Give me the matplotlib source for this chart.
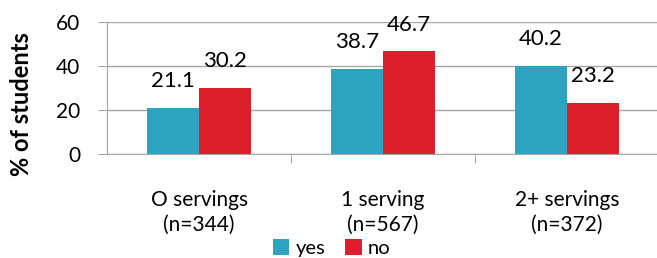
import numpy as np
import matplotlib.pyplot as plt

categories = ['O servings\n(n=344)', '1 serving\n(n=567)', '2+ servings\n(n=372)']
yes_vals = [21.1, 38.7, 40.2]
no_vals = [30.2, 46.7, 23.2]
yticks = [0, 20, 40, 60]

TEAL = '#2EA3C0'
RED = '#DC1F2A'
GRID = '#A6A6A6'

plt.rcParams['font.family'] = ['Lato', 'DejaVu Sans']

fig = plt.figure(figsize=(6.57, 2.58), dpi=100)
ax = fig.add_axes([0.163, 0.403, 0.84, 0.512])

x = np.arange(len(categories))
w = 0.283
b1 = ax.bar(x - w/2, yes_vals, w, color=TEAL, label='yes', zorder=3)
b2 = ax.bar(x + w/2, no_vals, w, color=RED, label='no', zorder=3)

for bars, vals in ((b1, yes_vals), (b2, no_vals)):
    for r, v in zip(bars, vals):
        ax.annotate('%.1f' % v, (r.get_x() + r.get_width()/2, v),
                    xytext=(0, 12), textcoords='offset points',
                    ha='center', va='bottom', fontsize=16, color='black')

ax.set_xlim(-0.5, 2.5)
ax.set_ylim(0, 60)
ax.set_yticks(yticks)
ax.tick_params(axis='y', length=6.5, color=GRID, labelsize=15, pad=13)
ax.yaxis.grid(True, color=GRID, linewidth=1, zorder=0)
ax.set_xticks([0.5, 1.5], minor=False)
ax.set_xticklabels([])
ax.tick_params(axis='x', length=6.5, color=GRID)
ax.set_xticks(x, minor=True)
ax.set_xticklabels(categories, minor=True, fontsize=15, linespacing=1.3)
ax.tick_params(axis='x', which='minor', length=0, pad=26)

for s in ('top', 'right'):
    ax.spines[s].set_visible(False)
ax.spines['left'].set_color(GRID)
ax.spines['bottom'].set_color(GRID)

ax.set_ylabel('% of students', fontsize=17, fontweight='bold')
ax.yaxis.set_label_coords(-0.134, 0.38)

fig.legend(handles=[b1, b2], loc='lower center', bbox_to_anchor=(0.505, 0.004),
           ncol=2, frameon=False, fontsize=14.5, handlelength=0.8, handleheight=0.8,
           handletextpad=0.3, columnspacing=1.0, borderpad=0, borderaxespad=0)

fig.savefig('out.png', dpi=100)
